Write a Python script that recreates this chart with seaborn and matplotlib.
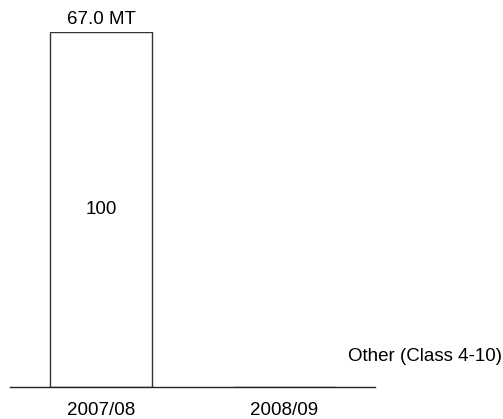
import matplotlib
matplotlib.use("Agg")
import matplotlib.pyplot as plt
import seaborn as sns
import pandas as pd

categories = ["2007/08", "2008/09"]
values = [100, 0]
bar_labels = ["100", ""]
top_labels = ["67.0 MT", ""]
series_name = "Other (Class 4-10)"

sns.set_style("white")
plt.rcParams["font.family"] = ["Liberation Sans", "DejaVu Sans"]
plt.rcParams["text.color"] = "black"

df = pd.DataFrame({"period": categories, "value": values})

fig = plt.figure(figsize=(5.03, 4.19), dpi=100)
ax = fig.add_axes([10 / 503, 32 / 419, 365 / 503, 355 / 419])

sns.barplot(data=df, x="period", y="value", ax=ax, color="white",
            edgecolor="#333333", linewidth=1.0, width=0.56, saturation=1)

ax.set_xlim(-0.5, 1.5)
ax.set_ylim(0, 100)
for s in ["top", "right", "left"]:
    ax.spines[s].set_visible(False)
ax.spines["bottom"].set_color("#222222")
ax.spines["bottom"].set_linewidth(1.0)
ax.set_yticks([])
ax.set_xlabel("")
ax.set_ylabel("")
ax.tick_params(axis="x", length=0, pad=10.5, labelsize=13.5, colors="black")

for i, (v, lab, top) in enumerate(zip(values, bar_labels, top_labels)):
    if lab:
        ax.text(i, v / 2, lab, ha="center", va="center", fontsize=13.5,
                color="black")
    if top:
        ax.text(i, v + 1.2, top, ha="center", va="bottom", fontsize=13.5,
                color="black", clip_on=False)

ax.text(1.35, 8.5, series_name, ha="left", va="center", fontsize=13.5,
        color="black", clip_on=False)

fig.savefig("out.png", dpi=100)
